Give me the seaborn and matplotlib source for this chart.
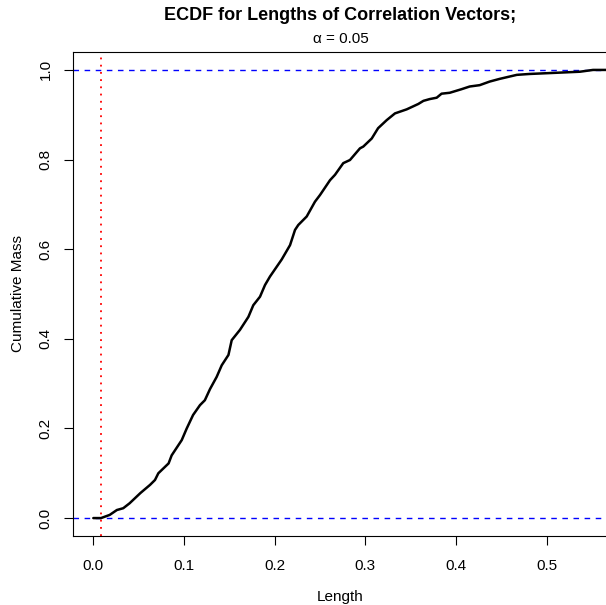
import matplotlib
matplotlib.use("Agg")
import matplotlib.pyplot as plt
import pandas as pd
import seaborn as sns

# ECDF (length, cumulative mass)
lengths = [0.0, 0.0085, 0.018, 0.026, 0.033, 0.040, 0.052, 0.0625, 0.068, 0.0717,
           0.083, 0.0864, 0.0975, 0.103, 0.110, 0.1176, 0.123, 0.1287, 0.136, 0.1416,
           0.149, 0.1526, 0.1617, 0.171, 0.1764, 0.1838, 0.1893, 0.1948, 0.2077, 0.2169,
           0.2224, 0.226, 0.2353, 0.2444, 0.25, 0.261, 0.2665, 0.2756, 0.283, 0.294,
           0.2977, 0.307, 0.314, 0.3235, 0.3326, 0.3455, 0.3583, 0.364, 0.371, 0.3786,
           0.384, 0.393, 0.406, 0.415, 0.426, 0.437, 0.448, 0.467, 0.481, 0.5146,
           0.5366, 0.551, 0.5675]
cum_mass = [0.0, 0.0, 0.007, 0.018, 0.022, 0.033, 0.056, 0.074, 0.085, 0.100,
            0.122, 0.140, 0.174, 0.200, 0.230, 0.252, 0.263, 0.288, 0.315, 0.341,
            0.364, 0.397, 0.420, 0.449, 0.475, 0.494, 0.520, 0.539, 0.577, 0.609,
            0.643, 0.654, 0.673, 0.706, 0.721, 0.754, 0.766, 0.792, 0.799, 0.825,
            0.829, 0.847, 0.870, 0.888, 0.903, 0.912, 0.924, 0.931, 0.935, 0.938,
            0.947, 0.949, 0.957, 0.963, 0.966, 0.974, 0.980, 0.989, 0.991, 0.994,
            0.996, 1.0, 1.0]
alpha_cut = 0.0085
ref_levels = [0.0, 1.0]
x_ticks = [0.0, 0.1, 0.2, 0.3, 0.4, 0.5]
y_ticks = [0.0, 0.2, 0.4, 0.6, 0.8, 1.0]

df = pd.DataFrame({"Length": lengths, "Cumulative Mass": cum_mass})

sns.set_theme(style="ticks")
plt.rcParams["font.family"] = ["Liberation Sans", "DejaVu Sans"]
plt.rcParams["text.color"] = "black"
plt.rcParams["axes.labelcolor"] = "black"

fig = plt.figure(figsize=(6.06, 6.05), dpi=100)
ax = fig.add_axes([73 / 606, 69 / 605, 535 / 606, 484 / 605])

sns.lineplot(data=df, x="Length", y="Cumulative Mass", color="black",
             linewidth=1.8, sort=False, ax=ax, zorder=3)
for lv in ref_levels:
    ax.axhline(lv, color="blue", linestyle=(0, (4, 4)), linewidth=1.0, zorder=2)
ax.axvline(alpha_cut, color="red", linestyle=(0, (1, 3)), linewidth=1.3, zorder=2)

ax.set_xlim(-0.0224, 0.5675)
ax.set_ylim(-0.04, 1.04)
ax.set_xticks(x_ticks)
ax.set_xticklabels([f"{t:.1f}" for t in x_ticks])
ax.set_yticks(y_ticks)
ax.set_yticklabels([f"{t:.1f}" for t in y_ticks], rotation=90, va="center")
ax.tick_params(axis="both", labelsize=11, length=6.5, width=0.8,
               color="black", labelcolor="black")
ax.tick_params(axis="x", pad=10)
ax.tick_params(axis="y", pad=8)

for s in ax.spines.values():
    s.set_color("black")
    s.set_linewidth(0.8)

ax.set_xlabel("Length", fontsize=11, labelpad=12)
ax.set_ylabel("Cumulative Mass", fontsize=11, labelpad=10)

# title centred over the plot region, as in the reference
cx = (73 + 608) / 2 / 606
fig.text(cx, 1 - 15 / 605, "ECDF for Lengths of Correlation Vectors;",
         ha="center", va="center", fontsize=13, fontweight="bold")
fig.text(cx, 1 - 39 / 605, "α = 0.05", ha="center", va="center", fontsize=11)

fig.savefig("out.png", dpi=100)
